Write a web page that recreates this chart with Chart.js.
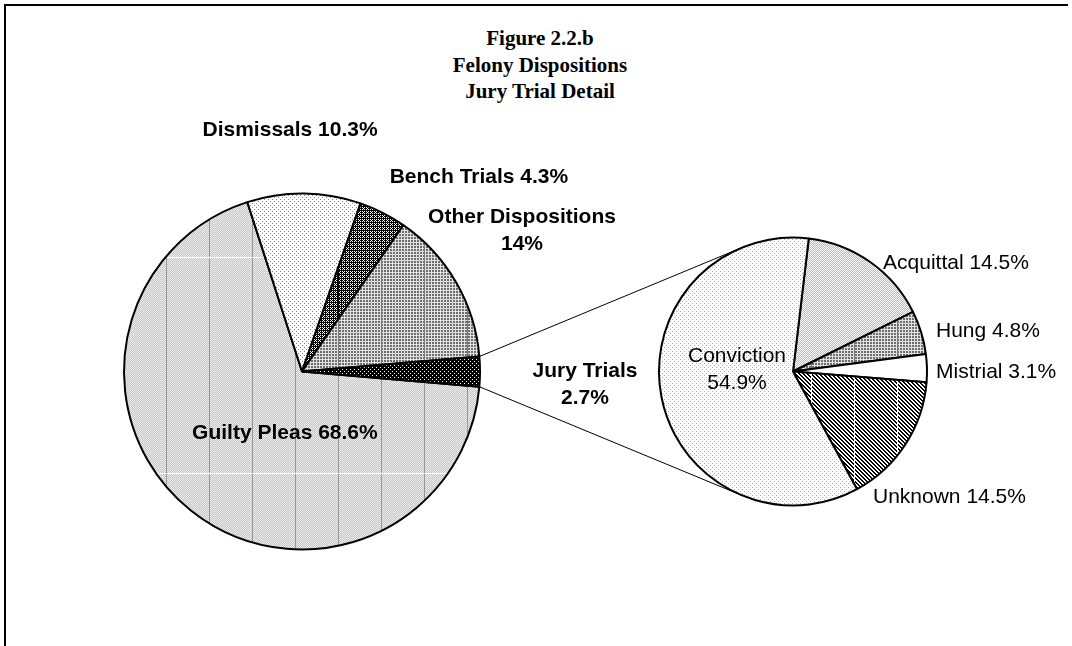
<!DOCTYPE html>
<html>
<head>
<meta charset="utf-8">
<script src="https://cdn.jsdelivr.net/npm/chart.js@4.4.1/dist/chart.umd.min.js"></script>
<style>
  body { margin: 0; background: #fff; }
  #wrap { position: relative; width: 1072px; height: 646px; overflow: hidden; }
  #wrap canvas { position: absolute; left: 0; top: 0; }
  #frame { position: absolute; left: 4px; top: 4px; width: 1062px; height: 660px;
           border-top: 2px solid #000; border-left: 2px solid #000; }
  #title { position: absolute; left: 4px; width: 1072px; top: 25px; text-align: center;
           font: bold 21px "Liberation Serif", "Times New Roman", serif; line-height: 26.5px; color: #000; }
</style>
</head>
<body>
<div id="wrap">
  <div id="frame"></div>
  <div id="title">Figure 2.2.b<br>Felony Dispositions<br>Jury Trial Detail</div>
  <canvas id="mainPie" width="1072" height="646"></canvas>
  <canvas id="detailPie" width="1072" height="646"></canvas>
</div>
<script>
// all felony dispositions (percent)
var dispositions = ["Guilty Pleas", "Dismissals", "Bench Trials", "Other Dispositions", "Jury Trials"];
var dispositionPct = [68.6, 10.3, 4.3, 14, 2.7];

// breakdown of the jury trial slice (percent)
var juryOutcomes = ["Acquittal", "Hung", "Mistrial", "Unknown", "Conviction"];
var juryPct = [14.5, 4.8, 3.1, 14.5, 54.9];

// grey-level bitmap fills, old-office-chart style
// seam: grey of the column repeated every 43px, rowSeam: grey of a row every 216px
function makePattern(pixel, seam, rowSeam) {
  var w = 172, h = rowSeam != null ? 216 : 12;
  var c = document.createElement("canvas");
  c.width = w; c.height = h;
  var g = c.getContext("2d");
  var img = g.createImageData(w, h);
  for (var y = 0; y < h; y++) {
    for (var x = 0; x < w; x++) {
      var v = pixel(x, y);
      if (seam != null && x % 43 === 0) v = seam;
      if (rowSeam != null && y === 0) v = rowSeam;
      var i = (y * w + x) * 4;
      img.data[i] = img.data[i + 1] = img.data[i + 2] = v;
      img.data[i + 3] = 255;
    }
  }
  g.putImageData(img, 0, 0);
  var p = g.createPattern(c, "repeat");
  p.setTransform(new DOMMatrix().translateSelf(-6, 41));
  return p;
}

function dots(x, y) { return (x % 4 === 0 && y % 4 === 0) || (x % 4 === 2 && y % 4 === 2); }

var fillChecker = makePattern(function (x, y) { return (x + y) % 2 ? 238 : 196; }, 150, 250);
var fillSparseDots = makePattern(function (x, y) { return dots(x, y) ? 130 : 255; });
var fillDarkDots = makePattern(function (x, y) {
  return ((x % 2 === 0 && y % 2 === 0) || (x % 4 === 1 && y % 4 === 3)) ? 255 : 0;
}, 0);
var fillGrid = makePattern(function (x, y) { return (x % 3 === 0 || y % 3 === 0) ? 225 : 110; }, 120);
var fillBlackDots = makePattern(function (x, y) { return dots(x, y) ? 255 : 0; });
var fillLightDots = makePattern(function (x, y) { return dots(x, y) ? 170 : 255; });
var fillFineChecker = makePattern(function (x, y) { return (x + y) % 2 ? 250 : 185; });
var fillHatch = makePattern(function (x, y) { return ((x - y) % 4 + 4) % 4 < 2 ? 0 : 255; }, 255);

// label anchors in units of the pie radius, measured from the pie centre
var mainLabelSpots = [
  { ax: -0.096, ay: 0.345, align: "center", split: false },
  { ax: -0.067, ay: -1.357, align: "center", split: false },
  { ax: 0.994, ay: -1.093, align: "center", split: false },
  { ax: 1.236, ay: -0.789, align: "center", split: true },
  { ax: 1.590, ay: 0.073, align: "center", split: true }
];
var detailLabelSpots = [
  { ax: 0.672, ay: -0.81, align: "left", split: false },
  { ax: 1.067, ay: -0.302, align: "left", split: false },
  { ax: 1.067, ay: 0.004, align: "left", split: false },
  { ax: 0.597, ay: 0.937, align: "left", split: false },
  { ax: -0.418, ay: -0.011, align: "center", split: true }
];

var sliceLabels = {
  id: "sliceLabels",
  afterDatasetsDraw: function (chart, args, opts) {
    var ctx = chart.ctx;
    var meta = chart.getDatasetMeta(0);
    var names = chart.data.labels;
    var values = chart.data.datasets[0].data;
    ctx.save();
    ctx.fillStyle = "#000";
    ctx.font = opts.font;
    ctx.textBaseline = "middle";
    meta.data.forEach(function (arc, i) {
      var spot = opts.spots[i];
      var txt = values[i] + "%";
      var lines = spot.split ? [names[i], txt] : [names[i] + " " + txt];
      var x = arc.x + spot.ax * arc.outerRadius;
      var y = arc.y + spot.ay * arc.outerRadius - (lines.length - 1) * 27 / 2;
      ctx.textAlign = spot.align;
      lines.forEach(function (s, k) { ctx.fillText(s, x, y + k * 27); });
    });
    ctx.restore();
  }
};

var mainChart = new Chart(document.getElementById("mainPie"), {
  type: "pie",
  data: {
    labels: dispositions,
    datasets: [{
      data: dispositionPct,
      backgroundColor: [fillChecker, fillSparseDots, fillDarkDots, fillGrid, fillBlackDots],
      borderColor: "#000",
      borderWidth: 2
    }]
  },
  options: {
    responsive: false,
    animation: false,
    rotation: 94.9,
    radius: 178,
    layout: { padding: { left: 122, top: 191.5, right: 590, bottom: 94.5 } },
    plugins: {
      legend: { display: false },
      tooltip: { enabled: false },
      sliceLabels: { spots: mainLabelSpots, font: 'bold 21px "Liberation Sans", Arial, sans-serif' }
    }
  },
  plugins: [sliceLabels]
});

// lines from the jury trial slice to the detail pie, tangent to its rim
var connectors = {
  id: "connectors",
  afterDatasetsDraw: function (chart) {
    var src = mainChart.getDatasetMeta(0).data[4];
    var dst = chart.getDatasetMeta(0).data[0];
    var cx = dst.x, cy = dst.y, r = dst.outerRadius;
    var ctx = chart.ctx;
    ctx.save();
    ctx.strokeStyle = "#000";
    ctx.lineWidth = 1;
    [src.startAngle, src.endAngle].forEach(function (a, k) {
      var px = src.x + src.outerRadius * Math.cos(a);
      var py = src.y + src.outerRadius * Math.sin(a);
      var d = Math.hypot(px - cx, py - cy);
      var t = Math.acos(r / d);
      var phi = Math.atan2(py - cy, px - cx);
      var a1 = phi + t, a2 = phi - t;
      var upper = Math.sin(a1) < Math.sin(a2) ? a1 : a2;
      var lower = upper === a1 ? a2 : a1;
      var b = k === 0 ? upper : lower;
      ctx.beginPath();
      ctx.moveTo(px, py);
      ctx.lineTo(cx + r * Math.cos(b), cy + r * Math.sin(b));
      ctx.stroke();
    });
    ctx.restore();
  }
};

new Chart(document.getElementById("detailPie"), {
  type: "pie",
  data: {
    labels: juryOutcomes,
    datasets: [{
      data: juryPct,
      backgroundColor: [fillFineChecker, fillGrid, "#ffffff", fillHatch, fillLightDots],
      borderColor: "#000",
      borderWidth: 2
    }]
  },
  options: {
    responsive: false,
    animation: false,
    rotation: 6.76,
    radius: 134,
    layout: { padding: { left: 653, top: 231.5, right: 139, bottom: 134.5 } },
    plugins: {
      legend: { display: false },
      tooltip: { enabled: false },
      sliceLabels: { spots: detailLabelSpots, font: '21px "Liberation Sans", Arial, sans-serif' }
    }
  },
  plugins: [sliceLabels, connectors]
});
</script>
</body>
</html>
